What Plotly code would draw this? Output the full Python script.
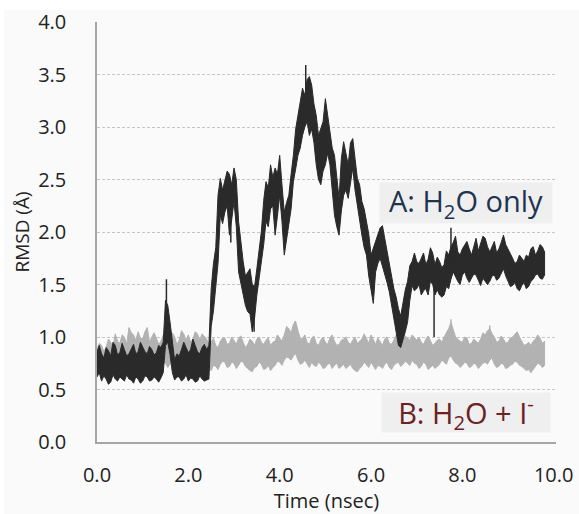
import plotly.graph_objects as go

# ---------------- data ----------------
# envelope samples every 0.1 ns (t = 0.0 .. 9.8) plus the in-between samples (t = 0.05 .. 9.75)
time_ns = [round(0.1 * i, 1) for i in range(99)]
time_mid_ns = [round(0.1 * i + 0.05, 2) for i in range(98)]

# A: H2O only (dark trace) - lower / upper envelope of the noisy RMSD (Å)
a_lo = [0.62, 0.58, 0.60, 0.57, 0.60, 0.62, 0.58, 0.60, 0.56, 0.60,
        0.58, 0.62, 0.59, 0.60, 0.61, 0.92, 0.83, 0.59, 0.62, 0.60,
        0.58, 0.60, 0.58, 0.60, 0.59, 1.10, 1.46, 2.16, 2.19, 1.97,
        2.29, 1.62, 1.40, 1.24, 1.05, 1.40, 1.72, 2.10, 2.22, 1.97,
        2.35, 1.78, 2.07, 2.48, 2.73, 2.92, 3.05, 2.98, 2.64, 2.45,
        2.64, 2.64, 2.16, 1.97, 2.35, 2.32, 2.61, 2.26, 1.97, 1.78,
        1.46, 1.62, 1.75, 1.59, 1.43, 1.18, 0.92, 0.98, 1.14, 1.49,
        1.46, 1.40, 1.46, 1.53, 1.40, 1.40, 1.40, 1.46, 1.62, 1.53,
        1.59, 1.56, 1.56, 1.59, 1.49, 1.53, 1.53, 1.59, 1.56, 1.65,
        1.53, 1.49, 1.46, 1.49, 1.46, 1.53, 1.59, 1.56, 1.59]
a_hi = [0.86, 0.84, 0.90, 0.82, 0.92, 0.85, 0.88, 0.84, 0.93, 0.86,
        0.90, 0.84, 0.88, 0.85, 0.90, 1.35, 1.14, 0.78, 0.82, 0.95,
        0.85, 0.98, 0.86, 0.90, 0.88, 1.46, 1.85, 2.51, 2.48, 2.55,
        2.61, 2.10, 1.72, 1.62, 1.50, 1.65, 2.01, 2.48, 2.64, 2.61,
        2.73, 2.19, 2.35, 2.73, 3.11, 3.37, 3.45, 3.40, 3.11, 2.99,
        3.27, 2.96, 2.73, 2.32, 2.86, 2.64, 2.89, 2.51, 2.29, 2.10,
        1.78, 1.91, 2.04, 1.94, 1.69, 1.46, 1.27, 1.33, 1.53, 1.72,
        1.72, 1.75, 1.69, 1.85, 1.69, 1.72, 1.69, 1.78, 1.90, 1.81,
        1.84, 1.91, 1.78, 1.94, 1.88, 1.94, 1.81, 1.91, 1.84, 1.97,
        1.84, 1.75, 1.72, 1.75, 1.78, 1.84, 1.78, 1.88, 1.81]
a_lo_mid = [0.66, 0.63, 0.55, 0.64, 0.58, 0.60, 0.64, 0.59, 0.62, 0.56,
            0.63, 0.58, 0.62, 0.57, 0.66, 0.95, 0.66, 0.62, 0.58, 0.64,
            0.61, 0.57, 0.63, 0.58, 0.60, 1.25, 1.70, 2.08, 2.25, 2.12,
            2.05, 1.52, 1.30, 1.22, 1.18, 1.55, 1.88, 2.05, 2.25, 2.15,
            2.10, 1.95, 2.22, 2.60, 2.80, 3.00, 2.92, 2.85, 2.50, 2.58,
            2.75, 2.40, 2.05, 2.20, 2.40, 2.45, 2.40, 2.10, 1.85, 1.58,
            1.32, 1.70, 1.66, 1.52, 1.28, 1.05, 0.90, 1.05, 1.35, 1.44,
            1.50, 1.44, 1.40, 1.50, 1.45, 1.38, 1.48, 1.55, 1.58, 1.50,
            1.62, 1.52, 1.60, 1.55, 1.56, 1.50, 1.58, 1.54, 1.60, 1.58,
            1.48, 1.52, 1.44, 1.52, 1.48, 1.55, 1.60, 1.55]
a_hi_mid = [0.92, 0.80, 0.87, 0.95, 0.83, 0.94, 0.82, 0.89, 0.84, 0.95,
            0.86, 0.91, 0.83, 0.92, 0.95, 1.30, 0.95, 0.84, 0.88, 0.90,
            0.88, 0.92, 0.84, 0.93, 0.92, 1.70, 2.35, 2.40, 2.58, 2.45,
            2.50, 1.88, 1.58, 1.65, 1.48, 1.86, 2.30, 2.42, 2.52, 2.55,
            2.45, 2.28, 2.55, 2.98, 3.20, 3.30, 3.48, 3.22, 2.92, 3.05,
            3.12, 2.80, 2.50, 2.70, 2.75, 2.85, 2.70, 2.45, 2.22, 1.98,
            1.85, 1.98, 2.06, 1.82, 1.60, 1.38, 1.20, 1.45, 1.68, 1.80,
            1.70, 1.80, 1.74, 1.80, 1.76, 1.66, 1.82, 1.86, 1.96, 1.78,
            1.88, 1.84, 1.86, 1.82, 1.96, 1.86, 1.86, 1.80, 1.90, 1.88,
            1.80, 1.70, 1.78, 1.72, 1.76, 1.86, 1.82, 1.86]

# B: H2O + I- (grey trace)
b_lo = [0.70, 0.68, 0.72, 0.70, 0.74, 0.72, 0.75, 0.78, 0.74, 0.76,
        0.72, 0.78, 0.74, 0.76, 0.72, 0.75, 0.74, 0.76, 0.73, 0.78,
        0.75, 0.74, 0.77, 0.74, 0.72, 0.68, 0.72, 0.74, 0.76, 0.72,
        0.75, 0.73, 0.76, 0.70, 0.67, 0.72, 0.74, 0.70, 0.68, 0.73,
        0.76, 0.78, 0.80, 0.82, 0.78, 0.75, 0.74, 0.76, 0.72, 0.74,
        0.71, 0.75, 0.73, 0.70, 0.74, 0.72, 0.70, 0.67, 0.72, 0.74,
        0.76, 0.69, 0.72, 0.74, 0.71, 0.73, 0.76, 0.74, 0.75, 0.78,
        0.74, 0.72, 0.74, 0.71, 0.70, 0.74, 0.76, 0.80, 0.78, 0.74,
        0.73, 0.75, 0.72, 0.74, 0.72, 0.76, 0.78, 0.74, 0.72, 0.74,
        0.71, 0.74, 0.76, 0.72, 0.68, 0.66, 0.72, 0.74, 0.73]
b_hi = [0.88, 0.92, 0.90, 0.95, 1.03, 0.94, 1.00, 1.09, 1.02, 1.05,
        0.98, 1.09, 1.00, 0.99, 0.96, 1.00, 0.96, 1.00, 0.97, 1.03,
        1.02, 0.98, 1.03, 1.03, 0.98, 0.95, 0.92, 0.96, 0.99, 0.94,
        0.97, 0.99, 0.95, 0.93, 0.96, 0.98, 0.95, 0.97, 0.92, 0.96,
        0.99, 1.02, 1.08, 1.12, 1.06, 0.98, 0.95, 0.99, 0.94, 0.97,
        0.95, 0.99, 0.96, 0.93, 0.98, 0.95, 0.97, 0.94, 0.98, 0.99,
        1.02, 0.93, 0.95, 0.98, 0.94, 0.97, 1.00, 0.96, 0.99, 1.02,
        0.97, 0.95, 0.98, 0.96, 0.94, 0.98, 1.00, 1.08, 1.06, 0.98,
        0.95, 0.99, 0.94, 0.96, 0.98, 1.02, 1.08, 1.00, 0.96, 0.98,
        0.95, 1.00, 1.05, 0.96, 0.93, 0.92, 0.98, 0.99, 0.96]
b_lo_mid = [0.73, 0.71, 0.68, 0.75, 0.70, 0.76, 0.71, 0.74, 0.79, 0.71,
            0.76, 0.73, 0.78, 0.70, 0.76, 0.71, 0.78, 0.70, 0.76, 0.74,
            0.78, 0.71, 0.73, 0.77, 0.70, 0.73, 0.69, 0.77, 0.71, 0.76,
            0.70, 0.77, 0.72, 0.68, 0.71, 0.76, 0.69, 0.73, 0.71, 0.77,
            0.73, 0.81, 0.78, 0.84, 0.74, 0.78, 0.71, 0.73, 0.76, 0.70,
            0.74, 0.70, 0.75, 0.72, 0.70, 0.74, 0.68, 0.70, 0.76, 0.71,
            0.72, 0.73, 0.70, 0.76, 0.69, 0.75, 0.72, 0.77, 0.73, 0.75,
            0.70, 0.76, 0.69, 0.73, 0.72, 0.78, 0.74, 0.82, 0.75, 0.71,
            0.76, 0.71, 0.75, 0.70, 0.75, 0.74, 0.80, 0.71, 0.75, 0.70,
            0.73, 0.77, 0.73, 0.70, 0.69, 0.70, 0.75, 0.71]
b_hi_mid = [0.94, 0.86, 0.98, 0.90, 0.96, 1.02, 0.93, 1.04, 0.97, 0.99,
            1.05, 0.95, 1.04, 0.93, 1.02, 0.94, 1.04, 0.93, 1.06, 0.97,
            0.95, 1.05, 0.97, 1.00, 0.93, 0.99, 0.90, 0.99, 0.93, 1.00,
            0.93, 1.01, 0.90, 0.98, 0.92, 1.00, 0.93, 0.99, 0.95, 1.02,
            0.96, 1.10, 1.04, 1.15, 0.99, 1.02, 0.93, 1.01, 0.92, 1.00,
            0.93, 1.02, 0.92, 0.97, 1.00, 0.93, 1.00, 0.96, 1.03, 0.94,
            0.98, 0.99, 0.92, 1.00, 0.93, 1.02, 0.94, 1.01, 0.97, 0.99,
            1.00, 0.93, 1.01, 0.92, 0.97, 0.95, 1.04, 1.14, 1.00, 0.96,
            1.00, 0.93, 0.98, 0.94, 1.04, 1.06, 1.03, 0.95, 1.01, 0.94,
            0.99, 1.03, 1.00, 0.92, 0.95, 0.96, 1.02, 0.94]

# isolated single-frame spikes (time, low, high)
a_spike_t = [1.52, 2.93, 3.44, 4.57, 7.38, 7.75]
a_spike_lo = [1.20, 1.90, 1.05, 3.30, 1.00, 1.70]
a_spike_hi = [1.55, 2.30, 1.30, 3.59, 1.50, 2.04]
b_spike_t = [4.33, 7.75, 8.60]
b_spike_lo = [0.95, 0.90, 0.92]
b_spike_hi = [1.15, 1.17, 1.11]

y_ticks = [0.0, 0.5, 1.0, 1.5, 2.0, 2.5, 3.0, 3.5, 4.0]
x_ticks = [0.0, 2.0, 4.0, 6.0, 8.0, 10.0]

DARK = "#2a2a2a"
GREY = "#b2b2b2"
FONT = "Open Sans"


def merge(main, mid):
    out = []
    for i, v in enumerate(main):
        out.append(v)
        if i < len(mid):
            out.append(mid[i])
    return out


def band(lo, hi, lo_mid, hi_mid, color, name):
    t = merge(time_ns, time_mid_ns)
    lo_all = merge(lo, lo_mid)
    hi_all = merge(hi, hi_mid)
    return go.Scatter(x=t + t[::-1], y=hi_all + lo_all[::-1],
                      fill="toself", fillcolor=color, mode="lines",
                      line=dict(color=color, width=1), name=name,
                      hoverinfo="skip", showlegend=False)


def spikes(t, lo, hi, color):
    xs, ys = [], []
    for ti, l, h in zip(t, lo, hi):
        xs += [ti, ti, None]
        ys += [l, h, None]
    return go.Scatter(x=xs, y=ys, mode="lines", line=dict(color=color, width=1.5),
                      hoverinfo="skip", showlegend=False)


fig = go.Figure()
fig.add_trace(band(b_lo, b_hi, b_lo_mid, b_hi_mid, GREY, "B"))
fig.add_trace(spikes(b_spike_t, b_spike_lo, b_spike_hi, GREY))
fig.add_trace(band(a_lo, a_hi, a_lo_mid, a_hi_mid, DARK, "A"))
fig.add_trace(spikes(a_spike_t, a_spike_lo, a_spike_hi, DARK))

# light grey chart-area background
fig.add_shape(type="rect", xref="paper", yref="paper",
              x0=-0.2026, x1=1.06, y0=-0.18, y1=1.0286,
              fillcolor="#fafafa", line=dict(width=0), layer="below")

fig.update_layout(
    width=579, height=514,
    margin=dict(l=97, r=23, t=22, b=72, autoexpand=False),
    paper_bgcolor="white", plot_bgcolor="rgba(0,0,0,0)",
    font=dict(family=FONT, color="#222222"),
    showlegend=False,
    xaxis=dict(range=[0, 10.05], tickvals=x_ticks, ticktext=[f"{v:.1f}" for v in x_ticks],
               automargin=False,
               showgrid=False, zeroline=False, showline=True, linecolor="#a6a6a6",
               linewidth=1.5, ticks="", tickfont=dict(size=20, family=FONT, color="#222"),
               ticklabelstandoff=14,
               title=dict(text="Time (nsec)", font=dict(size=20, family=FONT, color="#222"),
                          standoff=11)),
    yaxis=dict(range=[0, 4.0], tickvals=y_ticks, ticktext=[f"{v:.1f}" for v in y_ticks],
               automargin=False,
               showgrid=True, gridcolor="#c6c6c6", griddash="3px,2px", gridwidth=1,
               zeroline=False, showline=True, linecolor="#a6a6a6", linewidth=1.5,
               ticks="", tickfont=dict(size=20, family=FONT, color="#222"),
               ticklabelstandoff=25,
               title=dict(text="RMSD (Å)", font=dict(size=19, family=FONT, color="#222"),
                          standoff=3)),
    annotations=[
        dict(xref="paper", yref="paper", x=0.804, y=0.569, xanchor="center", yanchor="middle",
             text="A: H<sub>2</sub>O only", showarrow=False, bgcolor="#efefef",
             width=170, height=38, borderpad=1,
             font=dict(size=29, family=FONT, color="#1d3450")),
        dict(xref="paper", yref="paper", x=0.805, y=0.070, xanchor="center", yanchor="middle",
             text="B: H<sub>2</sub>O + I<sup>-</sup>", showarrow=False, bgcolor="#efefef",
             width=166, height=37, borderpad=1,
             font=dict(size=29, family=FONT, color="#6a2222")),
    ],
)

fig.write_html("out.html", config={"displayModeBar": False},
               post_script="document.body.style.margin='0';document.body.style.padding='0';")
